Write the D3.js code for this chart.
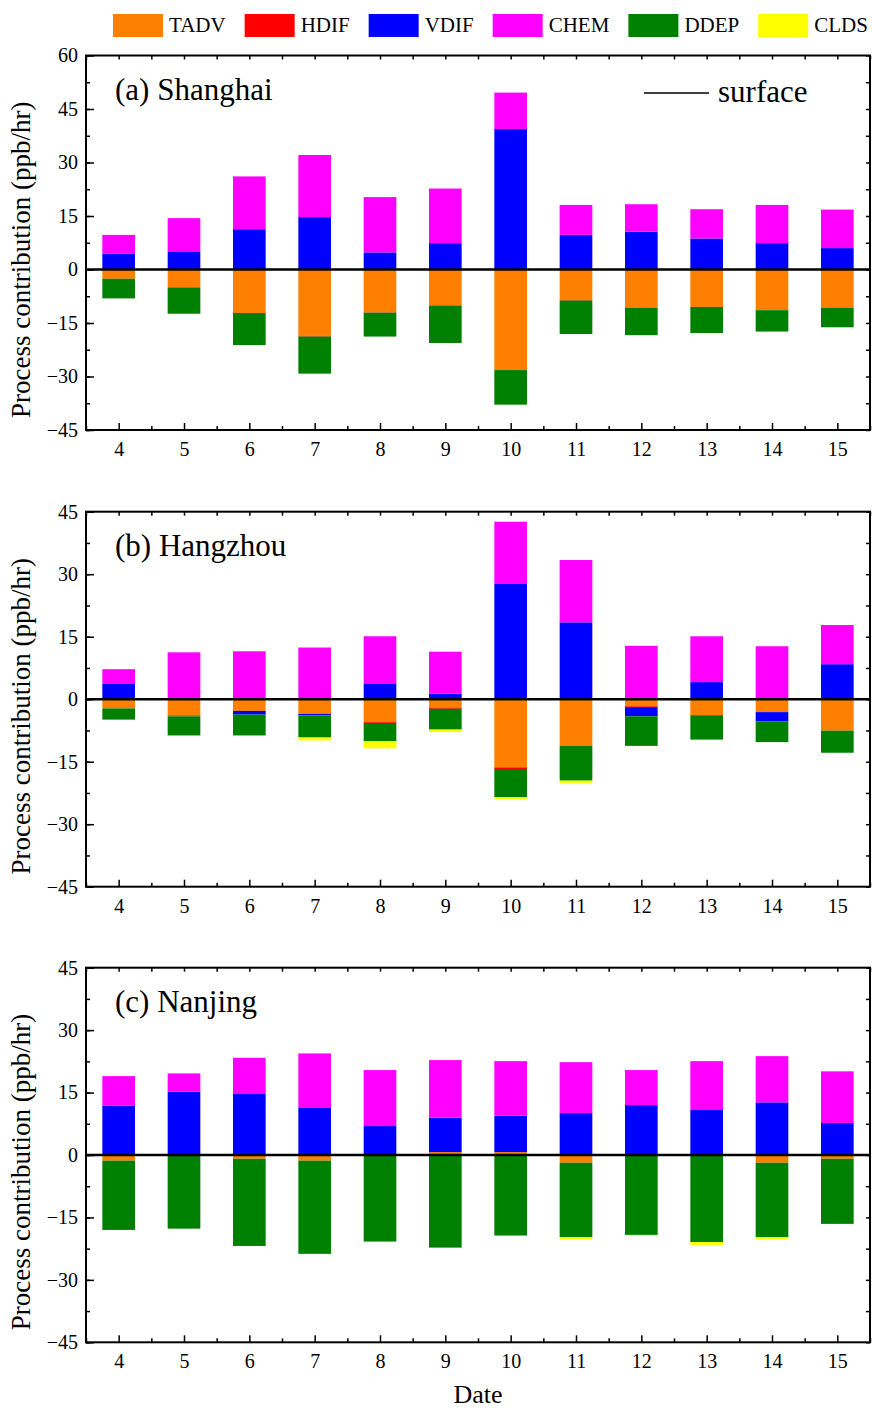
<!DOCTYPE html>
<html>
<head>
<meta charset="utf-8">
<script src="https://cdn.jsdelivr.net/npm/d3@7"></script>
<style>
  body { margin: 0; background: #fff; }
  text { font-family: "Liberation Serif", "Times New Roman", serif; fill: #000; }
</style>
</head>
<body>
<div id="chart"></div>
<script>
// Dates on the x axis
var days = [4, 5, 6, 7, 8, 9, 10, 11, 12, 13, 14, 15];
var processes = ["TADV", "HDIF", "VDIF", "CHEM", "DDEP", "CLDS"];
var colors = ["#ff8000", "#ff0000", "#0000ff", "#ff00ff", "#008000", "#ffff00"];

// (a) Shanghai
var shTADV = [-2.6, -5.0, -12.2, -18.6, -12.0, -10.0, -28.2, -8.5, -10.7, -10.5, -11.4, -10.7];
var shHDIF = [0, 0, 0, -0.2, -0.1, -0.1, 0, -0.2, 0, 0, 0, 0];
var shVDIF = [4.5, 5.1, 11.3, 14.7, 4.8, 7.4, 39.4, 9.7, 10.6, 8.7, 7.4, 6.0];
var shCHEM = [5.2, 9.3, 14.8, 17.4, 15.5, 15.3, 10.2, 8.4, 7.7, 8.2, 10.7, 10.8];
var shDDEP = [-5.5, -7.4, -9.0, -10.4, -6.7, -10.5, -9.7, -9.4, -7.7, -7.3, -6.0, -5.5];
var shCLDS = [0, 0, 0, 0, 0, 0, 0, 0, 0, 0, 0, 0];

// (b) Hangzhou
var hzTADV = [-2.2, -3.9, -2.8, -3.5, -5.5, -2.0, -16.35, -11.15, -1.7, -3.8, -3.1, -7.55];
var hzHDIF = [0, -0.2, 0, 0, -0.2, -0.3, -0.4, 0, -0.2, -0.2, 0, 0];
var hzVDIF = [3.65, 0, -0.9, -0.4, 3.8, 1.3, 27.65, 18.45, -2.2, 4.1, -2.2, 8.4];
var hzCHEM = [3.55, 11.25, 11.5, 12.4, 11.3, 10.1, 14.95, 14.95, 12.8, 11.0, 12.7, 9.4];
var hzDDEP = [-2.7, -4.6, -5.0, -5.3, -4.4, -5.0, -6.75, -8.4, -7.1, -5.7, -5.0, -5.3];
var hzCLDS = [0, 0, 0, -0.7, -1.7, -0.6, -0.45, -0.6, 0, 0, 0, 0];

// (c) Nanjing
var njTADV = [-1.35, 0, -0.9, -1.35, 0, 0.7, 0.7, -1.85, 0, 0, -1.85, -0.9];
var njHDIF = [0, 0, 0, 0, 0, 0, 0, 0, 0, 0, 0, 0];
var njVDIF = [11.9, 15.2, 14.65, 11.3, 6.95, 8.25, 8.75, 10.1, 12.0, 10.8, 12.65, 7.7];
var njCHEM = [7.05, 4.4, 8.7, 13.1, 13.45, 13.85, 13.1, 12.2, 8.4, 11.75, 11.1, 12.4];
var njDDEP = [-16.65, -17.7, -20.95, -22.4, -20.8, -22.25, -19.35, -17.85, -19.2, -20.9, -17.85, -15.65];
var njCLDS = [0, 0, 0, 0, 0, 0, 0, -0.6, -0.2, -0.7, -0.55, 0];

var panelTitles = ["(a) Shanghai", "(b) Hangzhou", "(c) Nanjing"];
var yTicksA = [-45, -30, -15, 0, 15, 30, 45, 60];
var yTicksBC = [-45, -30, -15, 0, 15, 30, 45];

var panels = [
  { title: panelTitles[0], series: [shTADV, shHDIF, shVDIF, shCHEM, shDDEP, shCLDS], ticks: yTicksA, top: 55.5, bottom: 430, surface: true },
  { title: panelTitles[1], series: [hzTADV, hzHDIF, hzVDIF, hzCHEM, hzDDEP, hzCLDS], ticks: yTicksBC, top: 511.7, bottom: 886.7 },
  { title: panelTitles[2], series: [njTADV, njHDIF, njVDIF, njCHEM, njDDEP, njCLDS], ticks: yTicksBC, top: 967.7, bottom: 1342.3 }
];

var W = 872, H = 1412;
var left = 86, right = 870;

var svg = d3.select("#chart")
  .append("svg")
    .attr("width", W)
    .attr("height", H);

var x = d3.scaleLinear()
  .domain([3.5, 15.5])
  .range([left, right]);

var barW = x(4.25) - x(3.75);

var stack = d3.stack()
  .keys(processes)
  .offset(d3.stackOffsetDiverging);

panels.forEach(function (p) {
  // rows for the stack
  var rows = days.map(function (d, i) {
    var r = { day: d };
    processes.forEach(function (k, j) { r[k] = p.series[j][i]; });
    return r;
  });

  var y = d3.scaleLinear()
    .domain([d3.min(p.ticks), d3.max(p.ticks)])
    .range([p.bottom, p.top]);

  var minorY = d3.range(d3.min(p.ticks), d3.max(p.ticks) + 0.1, 7.5);
  var minorX = d3.range(3.5, 15.6, 1);

  var g = svg.append("g");

  // stacked bars
  var layers = stack(rows);
  g.selectAll(".layer")
    .data(layers)
    .enter()
    .append("g")
      .attr("fill", function (d, i) { return colors[i]; })
    .selectAll("rect")
    .data(function (d) { return d; })
    .enter()
    .append("rect")
      .attr("x", function (d) { return x(d.data.day) - barW / 2; })
      .attr("y", function (d) { return y(d[1]); })
      .attr("width", barW)
      .attr("height", function (d) { return Math.max(0, y(d[0]) - y(d[1])); });

  // zero line
  g.append("line")
    .attr("x1", left).attr("x2", right)
    .attr("y1", y(0)).attr("y2", y(0))
    .attr("stroke", "#000")
    .attr("stroke-width", 2.5);

  // left axis
  g.append("g")
    .attr("transform", "translate(" + left + ",0)")
    .call(d3.axisLeft(y).tickValues(p.ticks).tickSize(-8).tickPadding(8).tickFormat(d3.format("d")));
  g.append("g")
    .attr("transform", "translate(" + left + ",0)")
    .call(d3.axisLeft(y).tickValues(minorY).tickSize(-4).tickFormat(""));
  // right axis
  g.append("g")
    .attr("transform", "translate(" + right + ",0)")
    .call(d3.axisRight(y).tickValues(minorY).tickSize(-4).tickFormat(""));

  // bottom axis
  g.append("g")
    .attr("transform", "translate(0," + p.bottom + ")")
    .call(d3.axisBottom(x).tickValues(days).tickSize(-7).tickPadding(12).tickFormat(d3.format("d")));
  g.append("g")
    .attr("transform", "translate(0," + p.bottom + ")")
    .call(d3.axisBottom(x).tickValues(minorX).tickSize(-4).tickFormat(""));
  // top axis
  g.append("g")
    .attr("transform", "translate(0," + p.top + ")")
    .call(d3.axisTop(x).tickValues(minorX.concat(days)).tickSize(-4).tickFormat(""));

  g.selectAll(".domain").remove();
  g.selectAll(".tick line").attr("stroke", "#000").attr("stroke-width", 1.5);
  g.selectAll(".tick text")
    .style("font-size", "20px")
    .style("font-family", "'Liberation Serif', 'Times New Roman', serif");

  // frame
  g.append("rect")
    .attr("x", left).attr("y", p.top)
    .attr("width", right - left).attr("height", p.bottom - p.top)
    .attr("fill", "none")
    .attr("stroke", "#000")
    .attr("stroke-width", 2);

  // panel title
  g.append("text")
    .attr("x", left + 29)
    .attr("y", p.top + 44)
    .style("font-size", "31px")
    .text(p.title);

  // y axis title
  g.append("text")
    .attr("transform", "translate(30," + ((p.top + p.bottom) / 2 + 17) + ") rotate(-90)")
    .attr("text-anchor", "middle")
    .style("font-size", "27px")
    .text("Process contribution (ppb/hr)");

  if (p.surface) {
    g.append("line")
      .attr("x1", 644).attr("x2", 709)
      .attr("y1", 93).attr("y2", 93)
      .attr("stroke", "#000")
      .attr("stroke-width", 1.3);
    g.append("text")
      .attr("x", 718)
      .attr("y", 102)
      .style("font-size", "31px")
      .text("surface");
  }
});

// x axis title
svg.append("text")
  .attr("x", (left + right) / 2)
  .attr("y", 1403)
  .attr("text-anchor", "middle")
  .style("font-size", "26px")
  .text("Date");

// legend across the top
var lx = 113;
processes.forEach(function (k, i) {
  svg.append("rect")
    .attr("x", lx).attr("y", 14)
    .attr("width", 50).attr("height", 23)
    .attr("fill", colors[i]);
  var t = svg.append("text")
    .attr("x", lx + 56)
    .attr("y", 32)
    .style("font-size", "21px")
    .text(k);
  lx = lx + 56 + t.node().getComputedTextLength() + 19;
});
</script>
</body>
</html>
